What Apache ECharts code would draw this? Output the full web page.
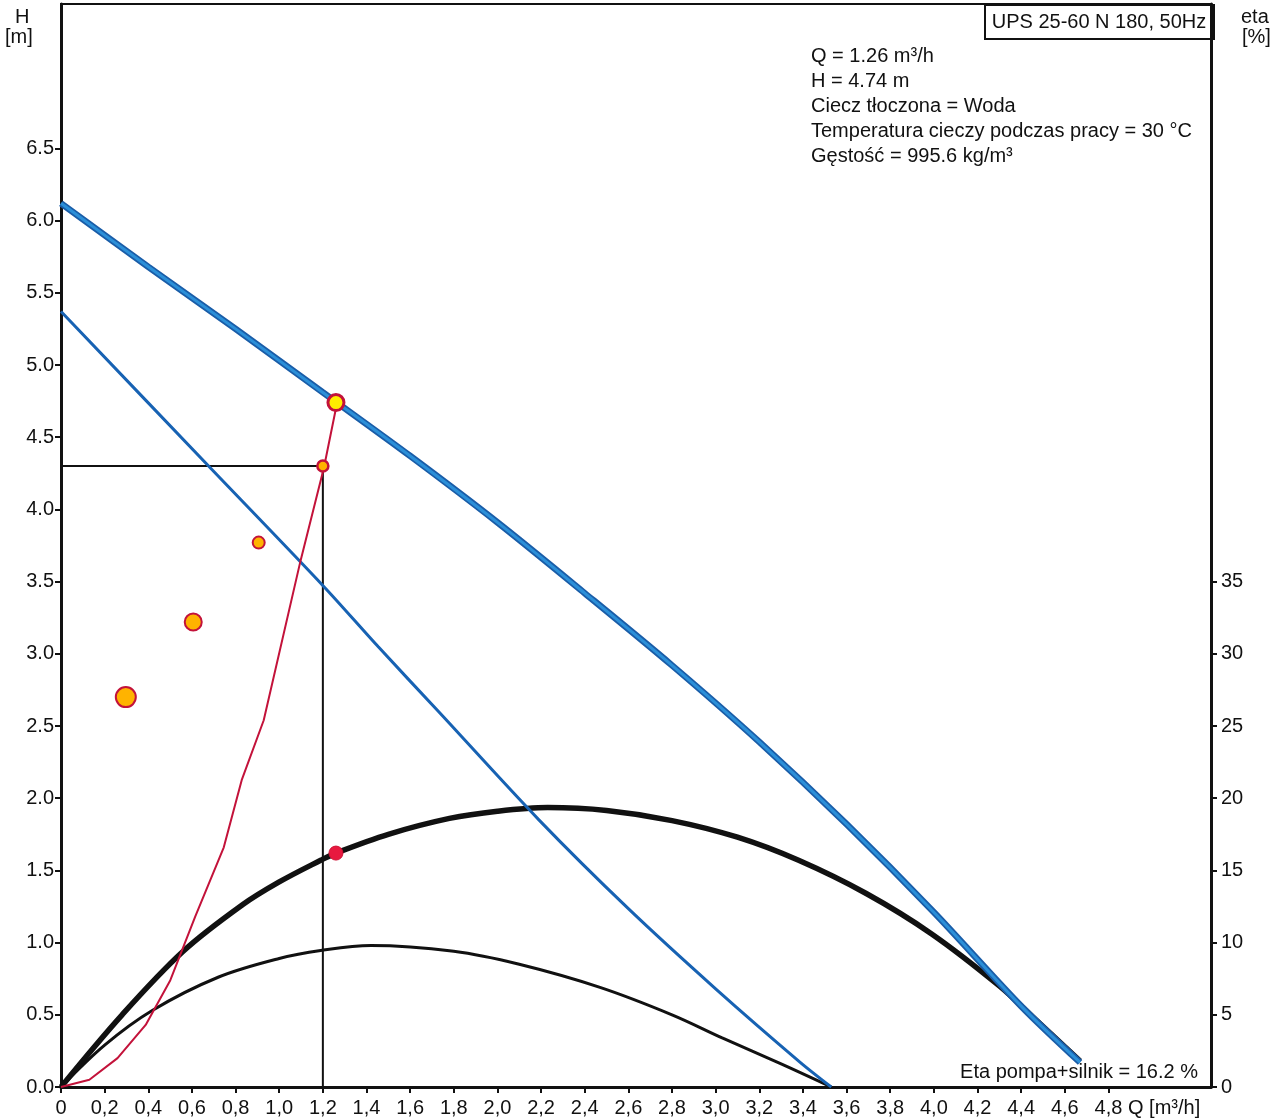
<!DOCTYPE html>
<html>
<head>
<meta charset="utf-8">
<title>UPS 25-60 N 180, 50Hz</title>
<script src="https://cdn.jsdelivr.net/npm/echarts@6/dist/echarts.min.js"></script>
<style>
  html, body { margin: 0; padding: 0; background: #fff; }
  #chart { width: 1287px; height: 1119px; }
</style>
</head>
<body>
<div id="chart"></div>
<script>
// Tick values
const qTicks = [0, 0.2, 0.4, 0.6, 0.8, 1.0, 1.2, 1.4, 1.6, 1.8, 2.0, 2.2, 2.4, 2.6, 2.8, 3.0, 3.2, 3.4, 3.6, 3.8, 4.0, 4.2, 4.4, 4.6, 4.8];
const hTicks = [0, 0.5, 1.0, 1.5, 2.0, 2.5, 3.0, 3.5, 4.0, 4.5, 5.0, 5.5, 6.0, 6.5];
const etaTicks = [0, 5, 10, 15, 20, 25, 30, 35];

// Q-H curve at maximum speed [Q m3/h, H m]
const hMax = [[0, 6.12], [0.4, 5.68], [0.8, 5.25], [1.2, 4.81], [1.6, 4.37], [2.0, 3.91], [2.4, 3.42], [2.8, 2.92], [3.2, 2.39], [3.6, 1.82], [4.0, 1.21], [4.4, 0.56], [4.67, 0.17]];
// Q-H curve at minimum speed
const hMin = [[0, 5.37], [0.686, 4.285], [1.205, 3.465], [1.453, 3.05], [1.73, 2.6], [2.19, 1.85], [2.6, 1.235], [3.0, 0.68], [3.386, 0.173], [3.53, 0]];
// Efficiency pump+motor at maximum speed [Q, eta %]
const etaMax = [[0, 0], [0.28, 5.0], [0.56, 9.4], [0.83, 12.6], [1.0, 14.2], [1.19, 15.7], [1.26, 16.2], [1.5, 17.5], [1.78, 18.6], [2.0, 19.1], [2.23, 19.35], [2.5, 19.15], [2.8, 18.45], [3.1, 17.3], [3.38, 15.7], [3.69, 13.4], [3.99, 10.6], [4.3, 7.0], [4.45, 4.9], [4.67, 1.8]];
// Efficiency pump+motor at minimum speed
const etaMin = [[0, 0], [0.2, 2.9], [0.418, 5.3], [0.72, 7.6], [1.0, 8.9], [1.19, 9.45], [1.42, 9.8], [1.8, 9.4], [2.1, 8.5], [2.47, 6.9], [2.8, 5.0], [3.03, 3.4], [3.3, 1.6], [3.53, 0]];
// System characteristic through the duty point
const systemCurve = [[0, 0], [0.13, 0.05], [0.259, 0.2], [0.388, 0.43], [0.501, 0.74], [0.615, 1.18], [0.746, 1.66], [0.828, 2.125], [0.929, 2.54], [1.097, 3.64], [1.205, 4.29], [1.264, 4.73]];
// Duty point and required point
const dutyPoint = [1.26, 4.74];
const requiredPoint = [1.2, 4.3];
const dutyEta = [1.26, 16.2];
// Markers on the H scale
const orangeDots = [[0.906, 3.77], [0.606, 3.22], [0.297, 2.70]];
const orangeDotSizes = [12, 17, 20];

const infoLines = [
  'Q = 1.26 m³/h',
  'H = 4.74 m',
  'Ciecz tłoczona = Woda',
  'Temperatura cieczy podczas pracy = 30 °C',
  'Gęstość = 995.6 kg/m³'
];

const FONT = '"Liberation Sans", Arial, sans-serif';
const INK = '#111';
const RED = '#c3123a';

const chart = echarts.init(document.getElementById('chart'), null, { renderer: 'canvas' });

const textStyle = (extra) => Object.assign({ fontFamily: FONT, fontSize: 20, fill: INK }, extra);

chart.setOption({
  animation: false,
  backgroundColor: '#fff',
  grid: { left: 61, right: 76, top: 4, bottom: 32, show: true, borderColor: INK, borderWidth: 2, backgroundColor: 'transparent' },
  xAxis: {
    type: 'value', min: 0, max: 5.27, position: 'bottom',
    axisLine: { onZero: false, lineStyle: { color: INK, width: 3 } },
    axisTick: { customValues: qTicks, length: 6, inside: false, lineStyle: { color: INK, width: 2 } },
    axisLabel: {
      customValues: qTicks, margin: 11, color: INK, fontFamily: FONT, fontSize: 20,
      formatter: v => (v === 0 ? '0' : v.toFixed(1).replace('.', ','))
    },
    splitLine: { show: false }
  },
  yAxis: [
    {
      type: 'value', min: 0, max: 7.5, position: 'left',
      axisLine: { show: true, lineStyle: { color: INK, width: 3 } },
      axisTick: { show: true, customValues: hTicks, length: 6, lineStyle: { color: INK, width: 2 } },
      axisLabel: { customValues: hTicks, margin: 7, color: INK, fontFamily: FONT, fontSize: 20, formatter: v => v.toFixed(1) },
      splitLine: { show: false }
    },
    {
      type: 'value', min: 0, max: 75, position: 'right',
      axisLine: { show: true, lineStyle: { color: INK, width: 3 } },
      axisTick: { show: true, customValues: etaTicks, length: 6, lineStyle: { color: INK, width: 2 } },
      axisLabel: { customValues: etaTicks, margin: 10, color: INK, fontFamily: FONT, fontSize: 20 },
      splitLine: { show: false }
    }
  ],
  series: [
    {
      name: 'crosshair', type: 'line', data: [[0, requiredPoint[1]], requiredPoint, [requiredPoint[0], 0]],
      symbol: 'none', lineStyle: { color: INK, width: 2 }, z: 2
    },
    {
      name: 'etaMin', type: 'line', yAxisIndex: 1, data: etaMin, smooth: 0.35,
      symbol: 'none', lineStyle: { color: INK, width: 3 }, z: 3
    },
    {
      name: 'etaMax', type: 'line', yAxisIndex: 1, data: etaMax, smooth: 0.35,
      symbol: 'none', lineStyle: { color: INK, width: 5.5 }, z: 3
    },
    {
      name: 'hMin', type: 'line', data: hMin, smooth: 0.3,
      symbol: 'none', lineStyle: { color: '#1762b3', width: 3 }, z: 4
    },
    {
      name: 'hMaxEdge', type: 'line', data: hMax, smooth: 0.3,
      symbol: 'none', lineStyle: { color: '#1a5da8', width: 6.5 }, z: 4
    },
    {
      name: 'hMax', type: 'line', data: hMax, smooth: 0.3,
      symbol: 'none', lineStyle: { color: '#2b8fd8', width: 3 }, z: 5
    },
    {
      name: 'system', type: 'line', data: systemCurve,
      symbol: 'none', lineStyle: { color: RED, width: 2 }, z: 6
    },
    {
      name: 'markers', type: 'scatter', data: orangeDots,
      symbolSize: (val, p) => orangeDotSizes[p.dataIndex],
      itemStyle: { color: '#ffb300', borderColor: RED, borderWidth: 2, opacity: 1 }, z: 7
    },
    {
      name: 'required', type: 'scatter', data: [requiredPoint], symbolSize: 11,
      itemStyle: { color: '#ffb300', borderColor: RED, borderWidth: 2.5, opacity: 1 }, z: 7
    },
    {
      name: 'duty', type: 'scatter', data: [dutyPoint], symbolSize: 16,
      itemStyle: { color: '#ffee00', borderColor: RED, borderWidth: 3, opacity: 1 }, z: 8
    },
    {
      name: 'dutyEta', type: 'scatter', yAxisIndex: 1, data: [dutyEta], symbolSize: 14,
      itemStyle: { color: '#e8193f', borderColor: '#d01236', borderWidth: 1, opacity: 1 }, z: 8
    }
  ],
  graphic: [
    { type: 'text', left: 15, top: 7, style: textStyle({ text: 'H' }) },
    { type: 'text', left: 5, top: 27, style: textStyle({ text: '[m]' }) },
    { type: 'text', left: 1241, top: 7, style: textStyle({ text: 'eta' }) },
    { type: 'text', left: 1242, top: 27, style: textStyle({ text: '[%]' }) },
    {
      type: 'group', left: 984, top: 4,
      children: [
        { type: 'rect', shape: { x: 0, y: 0, width: 229, height: 34 }, style: { fill: '#fff', stroke: INK, lineWidth: 2 } },
        { type: 'text', x: 114, y: 17, style: textStyle({ text: 'UPS 25-60 N 180, 50Hz', align: 'center', verticalAlign: 'middle' }) }
      ]
    },
    {
      type: 'group', left: 811, top: 46,
      children: infoLines.map((t, i) => ({
        type: 'text', x: 0, y: i * 25, style: textStyle({ text: t })
      }))
    },
    { type: 'text', right: 89, top: 1062, style: textStyle({ text: 'Eta pompa+silnik = 16.2 %' }) },
    { type: 'text', left: 1128, top: 1098, style: textStyle({ text: 'Q [m³/h]' }) }
  ]
});
</script>
</body>
</html>
